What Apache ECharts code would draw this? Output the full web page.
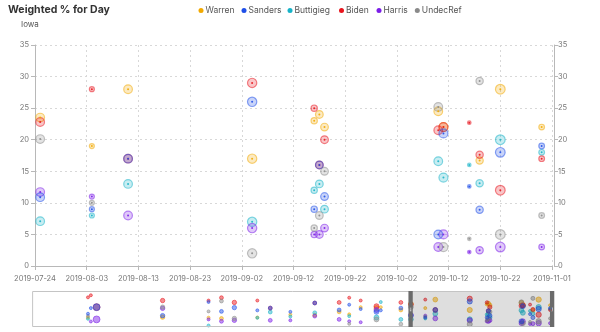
<!DOCTYPE html>
<html><head><meta charset="utf-8">
<script src="https://cdn.jsdelivr.net/npm/echarts@6/dist/echarts.min.js"></script>
<style>html,body{margin:0;padding:0;background:#fff}#c{width:600px;height:332px}</style>
</head><body><div id="c"></div>
<script>
// ---------- data ----------
const candidates = ['Warren', 'Sanders', 'Buttigieg', 'Biden', 'Harris', 'UndecRef'];
const pollDates = [
  '2018-12-12', '2018-12-14', '2018-12-18', '2019-02-02', '2019-03-06', '2019-03-15',
  '2019-03-24', '2019-04-09', '2019-04-18', '2019-05-02', '2019-05-19', '2019-06-05',
  '2019-06-12', '2019-06-20', '2019-07-01', '2019-07-04', '2019-07-18',
  '2019-07-25', '2019-08-04', '2019-08-11', '2019-09-04', '2019-09-16', '2019-09-17',
  '2019-09-18', '2019-10-10', '2019-10-11', '2019-10-16', '2019-10-18', '2019-10-22', '2019-10-30'
];
const pollWeights = [
  0.30, 0.30, 1.25, 0.80, 0.35, 0.70,
  0.80, 0.35, 0.70, 0.50, 0.70, 0.70,
  0.35, 0.35, 0.90, 0.30, 0.70,
  0.87, 0.50, 0.87, 0.93, 0.63, 0.77,
  0.77, 0.87, 0.90, 0.35, 0.73, 0.97, 0.57
];
const warren = [
  9, null, null, 9.4, 8.8, 8,
  null, 9, null, 12, 11.5, 15,
  12.4, 20, 19, 20, 17,
  23.5, 19, 28, 17, 23, 24,
  22, 24.5, 22, null, 16.7, 28, 22
];
const sanders = [
  13, 19, 20, 11, 25.5, 15.5,
  19.5, 16.6, 19, 15, 24.4, 17,
  22.6, 18, 15, 16.6, 19,
  10.9, 9, 17, 26, 9, 16,
  11, 5, 21, 12.6, 8.9, 18, 19
];
const buttigieg = [
  7.6, null, null, null, 0.5, null,
  null, 8.7, 14.8, 10, 14, null,
  10.5, null, 9, 25.4, 7,
  7.1, 8, 13, 7, 12, 13,
  9, 16.6, 14, 16, 13.1, 20, 18
];
const biden = [
  30.4, 32.6, 20, 27, 27, 30,
  25, 27, 19, 36, 24.4, 25,
  30, 27, 21, null, 25,
  22.8, 28, 17, 29, 25, 16,
  20, 21.5, 22, 22.7, 17.6, 12, 17
];
const harris = [
  null, 4.8, 7, 18.7, 7, 5,
  6, null, 6, 6, 10.5, 7,
  5, 4, 17, null, null,
  11.7, 11, 8, 6, 5, 5,
  6, 3, 5, 2.2, 2.5, 3, 3
];
const undecRef = [
  10.5, null, null, 20, 15.5, 26.5,
  8, null, null, null, null, null,
  2.3, null, 7, null, 2,
  20.1, 10, null, 2, 6, 8,
  15, 25.2, 3, 4.3, 29.3, 5, 8
];
const yTicks = [0, 5, 10, 15, 20, 25, 30, 35];
const windowStart = '2019-07-24';
const windowEnd = '2019-11-01';
const rangeStart = '2018-11-03';

// ---------- helpers ----------
const colors = ['#f2a900', '#1f4fe8', '#17b3c8', '#e8141c', '#7b1de8', '#8a8a8a'];
const legendLeft = [198.5, 241.5, 287.5, 339, 376.5, 414.8];
const drawOrder = [0, 2, 3, 4, 5, 1];
const values = [warren, sanders, buttigieg, biden, harris, undecRef];
const DAY = 86400000;
const base = Date.UTC(2019, 6, 24);
function dayOf(s) { const p = s.split('-').map(Number); return (Date.UTC(p[0], p[1] - 1, p[2]) - base) / DAY; }
function fmt(d) { return new Date(base + Math.round(d) * DAY).toISOString().slice(0, 10); }
function rgba(hex, a) {
  const n = parseInt(hex.slice(1), 16);
  return 'rgba(' + (n >> 16) + ',' + ((n >> 8) & 255) + ',' + (n & 255) + ',' + a + ')';
}
const FONT = 'Inter, "Noto Sans", sans-serif';

const series = [];
drawOrder.forEach(i => {
  const name = candidates[i];
  const data = [];
  pollDates.forEach((dt, j) => {
    const v = values[i][j];
    if (v != null) data.push([dayOf(dt), v, pollWeights[j]]);
  });
  const c = colors[i];
  series.push({
    type: 'scatter', name, xAxisIndex: 0, yAxisIndex: 0, data, z: 4, silent: true,
    symbolSize: 2, itemStyle: { color: c, opacity: 0.9 }
  });
  series.push({
    type: 'scatter', name, xAxisIndex: 0, yAxisIndex: 0, data, z: 3, silent: true,
    symbolSize: v => v[2] * 10,
    itemStyle: { color: rgba(c, 0.3), borderColor: rgba(c, 0.65), borderWidth: 1.2 }
  });
  series.push({
    type: 'scatter', name, xAxisIndex: 1, yAxisIndex: 2, data, z: 3, silent: true,
    symbolSize: v => Math.max(3, v[2] * 5.5),
    itemStyle: { color: rgba(c, 0.6), borderColor: rgba(c, 0.85), borderWidth: 0.8 }
  });
});

const axisGray = '#b8b8b8';
const labelGray = '#777';
const legends = candidates.map((n, i) => ({
  top: 6, left: legendLeft[i], padding: 0, icon: 'circle', itemWidth: 5, itemHeight: 5,
  textStyle: { fontSize: 8.5, color: '#555', fontFamily: FONT, padding: [0, 0, 0, -3] },
  data: [{ name: n, itemStyle: { color: colors[i], borderWidth: 0, opacity: 1 } }]
}));

const chart = echarts.init(document.getElementById('c'), null, { renderer: 'canvas' });
chart.setOption({
  animation: false,
  backgroundColor: '#fff',
  textStyle: { fontFamily: FONT },
  title: [
    { text: 'Weighted % for Day', left: 8, top: 4, padding: 0,
      textStyle: { fontSize: 10.5, fontWeight: 'bold', color: '#333', fontFamily: FONT } },
    { text: 'Iowa', left: 21, top: 21, padding: 0,
      textStyle: { fontSize: 8, fontWeight: 'normal', color: '#555', fontFamily: FONT } }
  ],
  legend: legends,
  grid: [
    { left: 35, right: 48, top: 45, bottom: 66, containLabel: false, outerBoundsMode: 'none' },
    { left: 32, right: 47, top: 293, bottom: 6, containLabel: false, outerBoundsMode: 'none' }
  ],
  xAxis: [
    {
      type: 'value', gridIndex: 0, min: dayOf(rangeStart), max: dayOf(windowEnd), interval: 10,
      offset: 6,
      axisLine: { show: true, lineStyle: { color: axisGray } },
      axisTick: { show: true, length: 4, lineStyle: { color: axisGray } },
      axisLabel: { color: labelGray, fontSize: 7.5, margin: 3, formatter: v => fmt(v), hideOverlap: false },
      splitLine: { show: true, lineStyle: { color: '#d8d8d8', type: [2, 3], width: 1 } }
    },
    { type: 'value', gridIndex: 1, min: dayOf(rangeStart), max: dayOf(windowEnd), show: false }
  ],
  yAxis: [
    {
      type: 'value', gridIndex: 0, min: 0, max: 35, interval: 5, position: 'left', offset: 2,
      axisLine: { show: true, lineStyle: { color: axisGray } },
      axisTick: { show: true, length: 4, lineStyle: { color: axisGray } },
      axisLabel: { color: labelGray, fontSize: 7.5, margin: 4 },
      splitLine: { show: true, lineStyle: { color: '#d8d8d8', type: [2, 3], width: 1 } }
    },
    {
      type: 'value', gridIndex: 0, min: 0, max: 35, interval: 5, position: 'right', offset: 2,
      axisLine: { show: true, lineStyle: { color: axisGray } },
      axisTick: { show: true, length: 4, lineStyle: { color: axisGray } },
      axisLabel: { color: labelGray, fontSize: 7.5, margin: 4 },
      splitLine: { show: false }
    },
    { type: 'value', gridIndex: 1, min: 0, max: 35, show: false }
  ],
  dataZoom: [{
    type: 'slider', xAxisIndex: 0, startValue: dayOf(windowStart), endValue: dayOf(windowEnd),
    left: 32, right: 47, top: 291, height: 36,
    showDataShadow: false, showDetail: false, brushSelect: false, moveHandleSize: 0,
    backgroundColor: 'rgba(0,0,0,0)', fillerColor: 'rgba(0,0,0,0.13)', borderColor: '#c4c4c4',
    dataBackground: { lineStyle: { opacity: 0 }, areaStyle: { opacity: 0 } },
    selectedDataBackground: { lineStyle: { opacity: 0 }, areaStyle: { opacity: 0 } },
    handleIcon: 'path://M0,0 H12 V100 H0 Z M4,46 V54 H8 V46 Z M4,44 V45 H8 V44 Z',
    handleSize: '100%',
    handleStyle: { color: '#6b6b6b', borderColor: '#6b6b6b', borderWidth: 0 },
    emphasis: { handleStyle: { color: '#6b6b6b', borderColor: '#6b6b6b' } }
  }],
  series
});
</script>
</body></html>
